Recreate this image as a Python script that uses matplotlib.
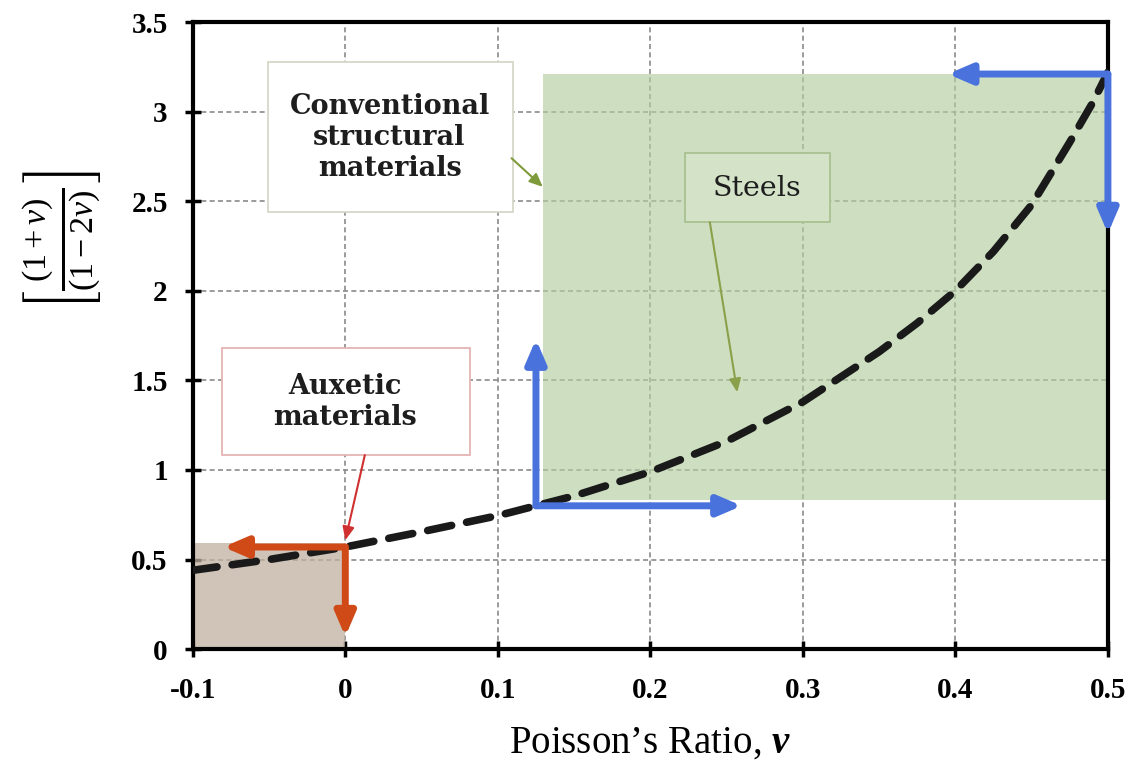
import matplotlib.pyplot as plt
from matplotlib.patches import Rectangle

plt.rcParams['mathtext.fontset'] = 'custom'
plt.rcParams['mathtext.rm'] = 'Liberation Serif'
plt.rcParams['mathtext.it'] = 'Liberation Serif:italic'
plt.rcParams['mathtext.bf'] = 'Liberation Serif:italic:bold'
plt.rcParams['mathtext.fallback'] = 'stix'

# curve
nu = [-0.1, -0.05, 0.0, 0.05, 0.1, 0.125, 0.15, 0.2, 0.25, 0.3, 0.35, 0.375,
      0.4, 0.425, 0.45, 0.475, 0.49, 0.5]
ratio = [0.44, 0.50, 0.57, 0.655, 0.745, 0.80, 0.855, 0.99, 1.16, 1.38, 1.66, 1.82,
         2.00, 2.22, 2.48, 2.83, 3.05, 3.22]

x_ticks = [-0.1, 0, 0.1, 0.2, 0.3, 0.4, 0.5]
x_labels = ['-0.1', '0', '0.1', '0.2', '0.3', '0.4', '0.5']
y_ticks = [0, 0.5, 1, 1.5, 2, 2.5, 3, 3.5]
y_labels = ['0', '0.5', '1', '1.5', '2', '2.5', '3', '3.5']

# shaded regions (x0, x1, y0, y1)
steel_region = (0.1295, 0.5, 0.83, 3.21)
auxetic_region = (-0.1, 0.0, 0.0, 0.59)

# blue / orange arrows (start, end)
blue_arrows = [((0.125, 0.80), (0.125, 1.73)),
               ((0.125, 0.80), (0.26, 0.80)),
               ((0.5, 3.21), (0.395, 3.21)),
               ((0.5, 3.21), (0.5, 2.32))]
orange_arrows = [((0.0, 0.57), (-0.08, 0.57)),
                 ((0.0, 0.57), (0.0, 0.07))]

# labelled boxes: text, box (x0, x1, y0, y1), text centre, arrow start, arrow end
labels = ['Conventional\nstructural\nmaterials', 'Steels', 'Auxetic\nmaterials']
label_boxes = [(-0.051, 0.110, 2.44, 3.275), (0.223, 0.318, 2.383, 2.768), (-0.081, 0.082, 1.083, 1.68)]
label_centres = [(0.029, 2.857), (0.270, 2.57), (0.0, 1.378)]
arrow_starts = [(0.109, 2.74), (0.239, 2.383), (0.0128, 1.083)]
arrow_ends = [(0.1295, 2.58), (0.257, 1.434), (0.0, 0.608)]
box_faces = ['white', '#d4e3c8', 'white']
box_edges = ['#d5d9c8', '#a9c192', '#e6b4b4']
arrow_colors = ['#7f9a3a', '#8aa04a', '#d03030']
label_weights = ['bold', 'normal', 'bold']
label_sizes = [19.5, 20.5, 19.5]

fig = plt.figure(figsize=(11.34, 7.61), dpi=100)
ax = fig.add_axes([0.170, 0.147, 0.807, 0.824])

ax.set_xlim(-0.1, 0.5)
ax.set_ylim(0, 3.5)

ax.grid(True, color='#8a8a8a', linestyle=(0, (3, 2)), linewidth=1.2)
ax.set_axisbelow(True)

x0, x1, y0, y1 = steel_region
ax.add_patch(Rectangle((x0, y0), x1 - x0, y1 - y0, facecolor='#b3cf9f',
                       alpha=0.65, edgecolor='none', zorder=1))
x0, x1, y0, y1 = auxetic_region
ax.add_patch(Rectangle((x0, y0), x1 - x0, y1 - y0, facecolor='#bfb09f',
                       alpha=0.75, edgecolor='none', zorder=1))

ax.plot(nu, ratio, color='#1a1a1a', linewidth=5.5, linestyle=(0, (3.2, 2.0)),
        dash_capstyle='round', zorder=3)

for (s, e) in blue_arrows:
    ax.annotate('', xy=e, xytext=s, zorder=4,
                arrowprops=dict(arrowstyle='-|>,head_length=1.4,head_width=0.6',
                                color='#4a72dc', lw=5, shrinkA=0, shrinkB=0))
for (s, e) in orange_arrows:
    ax.annotate('', xy=e, xytext=s, zorder=4,
                arrowprops=dict(arrowstyle='-|>,head_length=1.4,head_width=0.6',
                                color='#cf4a17', lw=5, shrinkA=0, shrinkB=0))

for i, txt in enumerate(labels):
    bx0, bx1, by0, by1 = label_boxes[i]
    ax.add_patch(Rectangle((bx0, by0), bx1 - bx0, by1 - by0, facecolor=box_faces[i],
                           edgecolor=box_edges[i], lw=1.3, zorder=5))
    ax.text(*label_centres[i], txt, ha='center', va='center', fontsize=label_sizes[i],
            family='DejaVu Serif', fontweight=label_weights[i], linespacing=1.2,
            color='#1e1e1e', zorder=6)
    ax.annotate('', xy=arrow_ends[i], xytext=arrow_starts[i], zorder=6,
                arrowprops=dict(arrowstyle='-|>,head_length=0.8,head_width=0.35',
                                color=arrow_colors[i], lw=1.5, shrinkA=0, shrinkB=0))

ax.set_xticks(x_ticks)
ax.set_xticklabels(x_labels)
ax.set_yticks(y_ticks)
ax.set_yticklabels(y_labels)
for lab in ax.get_xticklabels() + ax.get_yticklabels():
    lab.set_family('Liberation Serif')
    lab.set_fontweight('bold')
    lab.set_fontsize(21)
ax.tick_params(axis='x', direction='inout', length=12, width=2.5, pad=14)
ax.tick_params(axis='y', direction='inout', length=12, width=2.5, pad=12)

for sp in ax.spines.values():
    sp.set_linewidth(3)
    sp.set_color('black')

ax.set_xlabel("Poisson’s Ratio, $\\mathbf{v}$", family='Liberation Serif', fontsize=28, labelpad=15)
ax.set_ylabel(r'$\left[\frac{(1+v)}{(1-2v)}\right]$', fontsize=35)
ax.yaxis.label.set_va('center')
ax.yaxis.set_label_coords(-0.142, 0.652)

fig.savefig('out.png', dpi=100)
